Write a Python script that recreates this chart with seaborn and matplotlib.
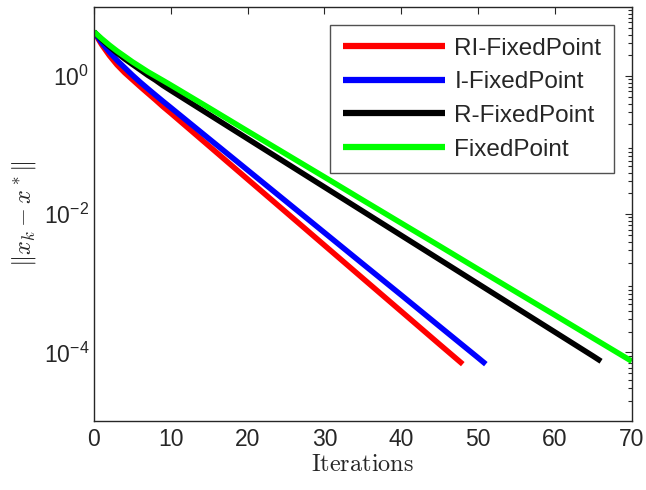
import numpy as np
import pandas as pd
import seaborn as sns
import matplotlib
matplotlib.use("Agg")
import matplotlib.pyplot as plt
from matplotlib.ticker import LogLocator, NullFormatter

# iterations and log10 of the error
iters_ri = [0, 1, 2, 3, 4, 5, 6, 7, 8, 9, 10, 15, 20, 25, 30, 35, 40, 45, 48]
log_err_ri = [0.643, 0.457, 0.300, 0.164, 0.050, -0.050, -0.150, -0.247, -0.343,
              -0.443, -0.536, -1.014, -1.493, -1.971, -2.450, -2.929, -3.407,
              -3.886, -4.171]

iters_i = [0, 1, 2, 3, 4, 5, 6, 7, 8, 9, 10, 15, 20, 25, 30, 35, 40, 45, 50, 51]
log_err_i = [0.643, 0.486, 0.350, 0.229, 0.121, 0.014, -0.086, -0.181, -0.274,
             -0.366, -0.456, -0.909, -1.361, -1.814, -2.267, -2.720, -3.171,
             -3.626, -4.079, -4.171]

iters_r = [0, 1, 2, 3, 4, 5, 6, 7, 8, 9, 10, 15, 20, 25, 30, 35, 40, 45, 50,
           55, 60, 65, 66]
log_err_r = [0.643, 0.529, 0.429, 0.336, 0.250, 0.171, 0.093, 0.014, -0.057,
             -0.136, -0.207, -0.557, -0.907, -1.257, -1.607, -1.957, -2.307,
             -2.657, -3.007, -3.357, -3.707, -4.057, -4.129]

iters_fp = [0, 1, 2, 3, 4, 5, 6, 7, 8, 9, 10, 15, 20, 25, 30, 35, 40, 45, 50,
            55, 60, 65, 70]
log_err_fp = [0.643, 0.543, 0.450, 0.364, 0.286, 0.207, 0.136, 0.064, 0.0,
              -0.064, -0.129, -0.461, -0.796, -1.129, -1.461, -1.796, -2.129,
              -2.461, -2.796, -3.129, -3.461, -3.796, -4.129]

methods = ["RI-FixedPoint", "I-FixedPoint", "R-FixedPoint", "FixedPoint"]
colors = ["#ff0000", "#0000ff", "#000000", "#00ff00"]

df = pd.concat([
    pd.DataFrame({"iter": iters_ri, "err": 10.0 ** np.array(log_err_ri), "method": methods[0]}),
    pd.DataFrame({"iter": iters_i, "err": 10.0 ** np.array(log_err_i), "method": methods[1]}),
    pd.DataFrame({"iter": iters_r, "err": 10.0 ** np.array(log_err_r), "method": methods[2]}),
    pd.DataFrame({"iter": iters_fp, "err": 10.0 ** np.array(log_err_fp), "method": methods[3]}),
])

sns.set_style("white")
plt.rcParams["font.family"] = ["Liberation Sans", "DejaVu Sans"]
plt.rcParams["mathtext.fontset"] = "custom"
plt.rcParams["mathtext.rm"] = "Liberation Sans"
plt.rcParams["mathtext.it"] = "Liberation Sans:italic"

fig = plt.figure(figsize=(6.46, 4.9), dpi=100)
ax = fig.add_axes([0.1455, 0.14, 0.8325, 0.8455])

sns.lineplot(data=df, x="iter", y="err", hue="method", hue_order=methods,
             palette=colors, linewidth=4.0, ax=ax, sort=False)
for line in ax.get_lines():
    line.set_solid_capstyle("butt")
    line.set_solid_joinstyle("round")

ax.set_yscale("log")
ax.set_xlim(0, 70)
ax.set_ylim(1e-5, 1e1)
ax.set_xticks(range(0, 71, 10))
ax.set_yticks([1e0, 1e-2, 1e-4])
ax.yaxis.set_minor_locator(LogLocator(base=10, subs=np.arange(2, 10), numticks=20))
ax.yaxis.set_minor_formatter(NullFormatter())

for s in ax.spines.values():
    s.set_color("#262626")
    s.set_linewidth(1.0)
ax.tick_params(axis="both", which="both", direction="in", top=True, right=True,
               colors="#262626", labelsize=16.5, width=0.8)
ax.tick_params(axis="both", which="major", length=5)
ax.tick_params(axis="y", which="minor", length=3)
ax.tick_params(axis="x", pad=5)

ax.set_xlabel(r"$\mathrm{Iterations}$", fontsize=17.5, math_fontfamily="cm",
              labelpad=2)
ax.set_ylabel(r"$\|x_k - x^*\|$", fontsize=17.5, math_fontfamily="cm",
              labelpad=4)

leg = ax.legend(loc="upper right", fontsize=17.5, frameon=True, fancybox=False,
                edgecolor="#262626", handlelength=4.2, borderpad=0.5,
                labelspacing=0.48, handletextpad=0.4, borderaxespad=0.75)
leg.get_frame().set_linewidth(1.0)
for h in leg.legend_handles:
    h.set_linewidth(4.5)
    h.set_solid_capstyle("butt")

fig.savefig("out.png", dpi=100)
